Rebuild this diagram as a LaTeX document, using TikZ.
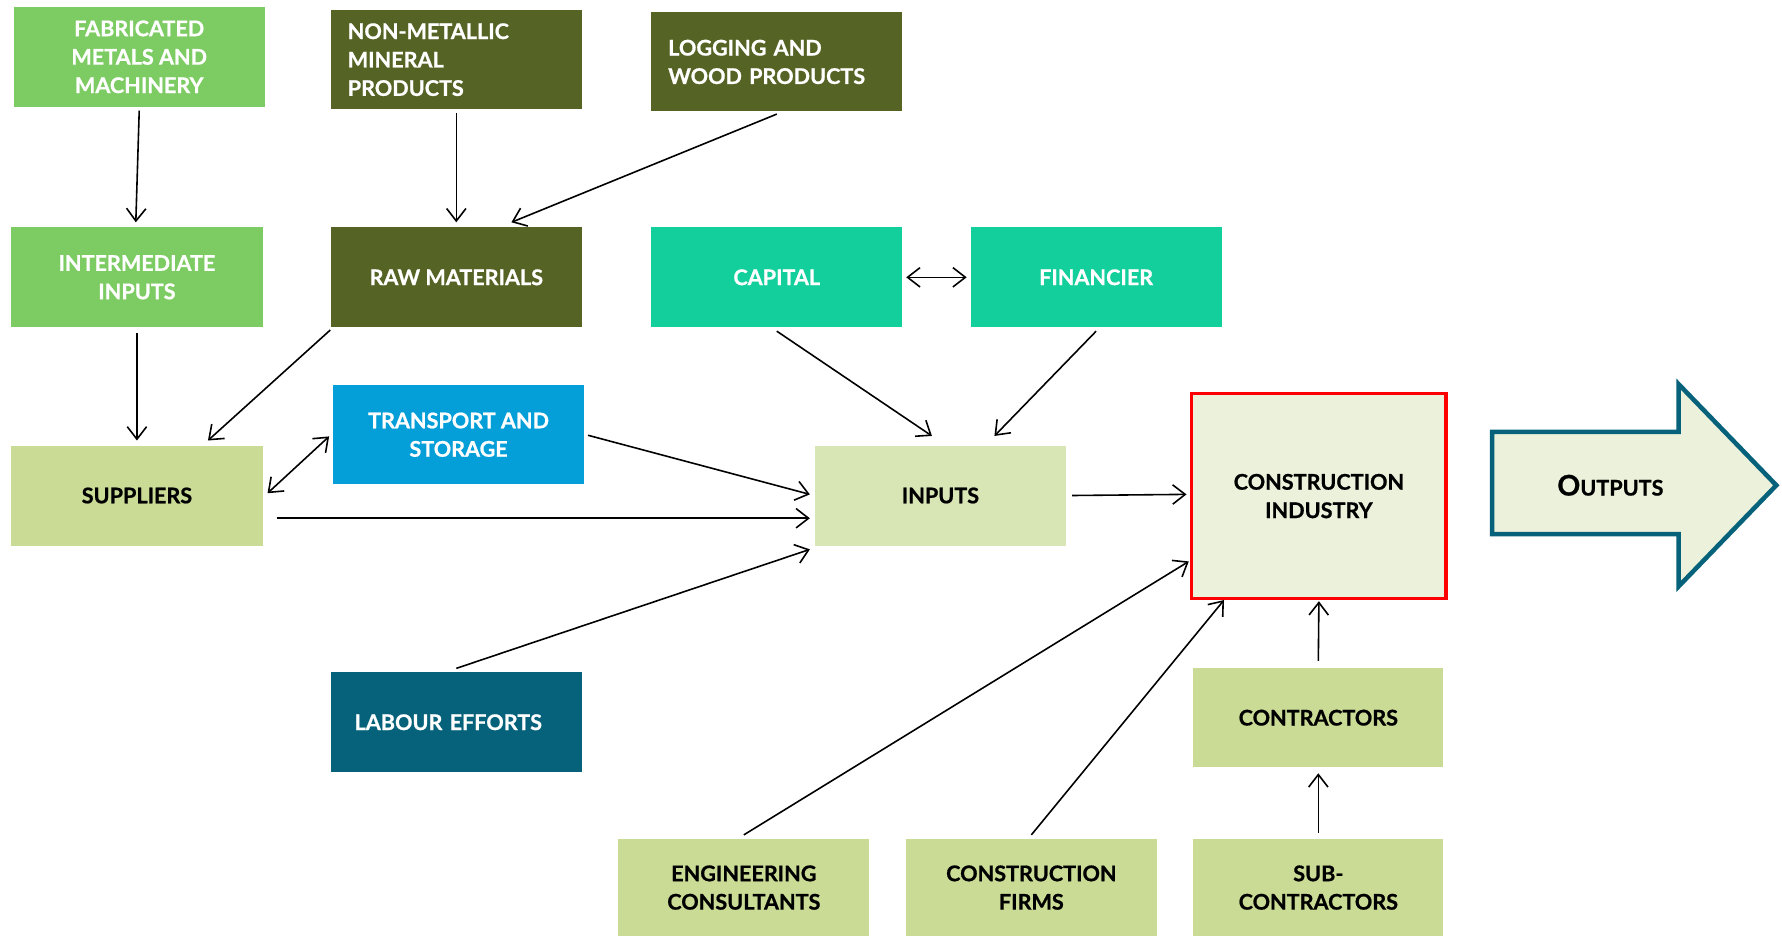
\documentclass[tikz,border=0pt]{standalone}
\usepackage{fontspec}
\setmainfont{Lato}[BoldFeatures={FakeBold=0.8}]
\usetikzlibrary{calc,arrows.meta}
\definecolor{lgreen}{HTML}{7DCB63}
\definecolor{olive}{HTML}{556324}
\definecolor{teal2}{HTML}{12CF9C}
\definecolor{blue2}{HTML}{049ED9}
\definecolor{pale}{HTML}{CADB95}
\definecolor{paler}{HTML}{D8E5B4}
\definecolor{cifill}{HTML}{EBF1DA}
\definecolor{petrol}{HTML}{05627A}
\begin{document}
\begin{tikzpicture}[x=0.5pt,y=-0.5pt,
  box/.style={rectangle,minimum width=110.5pt,minimum height=44pt,inner sep=0pt,
    font=\bfseries\fontsize{9.5}{12.5}\selectfont,align=center},
  wbox/.style={box,text=white},
  bbox/.style={box,text=black},
  lbox/.style={box,text=white,text width=95.5pt,align=left,inner xsep=7.5pt},
  arr/.style={draw=black,line width=0.7pt,-{Straight Barb[length=5.5pt,width=8.5pt,line width=0.7pt]}},
  darr/.style={draw=black,line width=0.7pt,{Straight Barb[length=5.5pt,width=8.5pt,line width=0.7pt]}-{Straight Barb[length=5.5pt,width=8.5pt,line width=0.7pt]}}]
\useasboundingbox (0,0) rectangle (1568,824);
% row 1
\node[wbox,fill=lgreen] (fab) at (122.5,50) {FABRICATED\\METALS AND\\MACHINERY};
\node[lbox,fill=olive,minimum height=43.5pt] (nonmet) at (401.5,52.5) {NON-METALLIC\\MINERAL\\PRODUCTS};
\node[lbox,fill=olive,minimum height=43.5pt] (logging) at (683.5,54.5) {LOGGING AND\\WOOD PRODUCTS};
% row 2
\node[wbox,fill=lgreen] (inter) at (120.5,244) {INTERMEDIATE\\INPUTS};
\node[wbox,fill=olive] (raw) at (401.5,244) {RAW MATERIALS};
\node[wbox,fill=teal2] (capital) at (683.5,244) {CAPITAL};
\node[wbox,fill=teal2] (financier) at (964.5,244) {FINANCIER};
% row 3
\node[wbox,fill=blue2,minimum height=43.5pt] (transport) at (403.5,382.5) {TRANSPORT AND\\STORAGE};
\node[bbox,fill=pale] (suppliers) at (120.5,436) {SUPPLIERS};
\node[bbox,fill=paler] (inputs) at (827.5,436) {INPUTS};
\node[bbox,fill=cifill,draw=red,line width=1.5pt,minimum width=112pt,minimum height=90pt] (ci) at (1160.5,436.5) {CONSTRUCTION\\INDUSTRY};
% outputs arrow
\draw[draw=petrol,fill=cifill,line width=2pt,line join=miter]
  (1313,380) -- (1477,380) -- (1477,338) -- (1563,427) -- (1477,516) -- (1477,470) -- (1313,470) -- cycle;
\node[font=\bfseries,text=black] (outputs) at (1417,427) {{\fontsize{12.5}{14}\selectfont O}{\fontsize{9.5}{12}\selectfont UTPUTS}};
% lower rows
\node[lbox,fill=petrol,text width=89.5pt,inner xsep=10.5pt,minimum height=44pt] (labour) at (401.5,635.5) {LABOUR EFFORTS};
\node[bbox,fill=pale,minimum width=110pt,minimum height=43.5pt] (contractors) at (1160,631.5) {CONTRACTORS};
\node[bbox,fill=pale,minimum height=43pt] (eng) at (654.5,781) {ENGINEERING\\CONSULTANTS};
\node[bbox,fill=pale,minimum height=43pt] (firms) at (907.5,781) {CONSTRUCTION\\FIRMS};
\node[bbox,fill=pale,minimum width=110pt,minimum height=43pt] (sub) at (1160,781) {SUB-\\CONTRACTORS};
% connectors
\draw[arr] ($(fab.south)+(0,3)$) -- ($(inter.north)+(-1,-4)$);
\draw[arr] ($(nonmet.south)+(0,3)$) -- ($(raw.north)+(0,-4)$);
\draw[arr] ($(logging.south)+(0,2)$) -- ($(raw.north)+(48.5,-4)$);
\draw[arr] ($(inter.south)+(0,5)$) -- ($(suppliers.north)+(0,-4)$);
\draw[arr] ($(raw.south west)+(0,2)$) -- ($(suppliers.north)+(62.5,-4)$);
\draw[darr] ($(capital.east)+(3,0)$) -- ($(financier.west)+(-3,0)$);
\draw[arr] ($(capital.south)+(0,3)$) -- ($(inputs.north)+(-7.5,-8)$);
\draw[arr] ($(financier.south)+(0,3)$) -- ($(inputs.north)+(47.5,-8)$);
\draw[darr] ($(suppliers.east)+(4,-2)$) -- ($(transport.west)+(-3,1.5)$);
\draw[arr] ($(transport.east)+(3,0.5)$) -- ($(inputs.west)+(-4,-1)$);
\draw[arr] ($(suppliers.east)+(12,20)$) -- ($(inputs.west)+(-4,20)$);
\draw[arr] ($(labour.north)+(0,-3)$) -- ($(inputs.south west)+(-4,3)$);
\draw[arr] ($(inputs.east)+(5,0)$) -- ($(ci.west)+(-3,-1.5)$);
\draw[arr] ($(eng.north)+(0,-3)$) -- ($(ci.south west)+(-1,-34)$);
\draw[arr] ($(firms.north)+(0,-3)$) -- ($(ci.south west)+(30,0)$);
\draw[arr] ($(contractors.north)+(0,-6)$) -- ($(ci.south)+(0,1)$);
\draw[arr] ($(sub.north)+(0,-5)$) -- ($(contractors.south)+(0,5)$);
\end{tikzpicture}
\end{document}
